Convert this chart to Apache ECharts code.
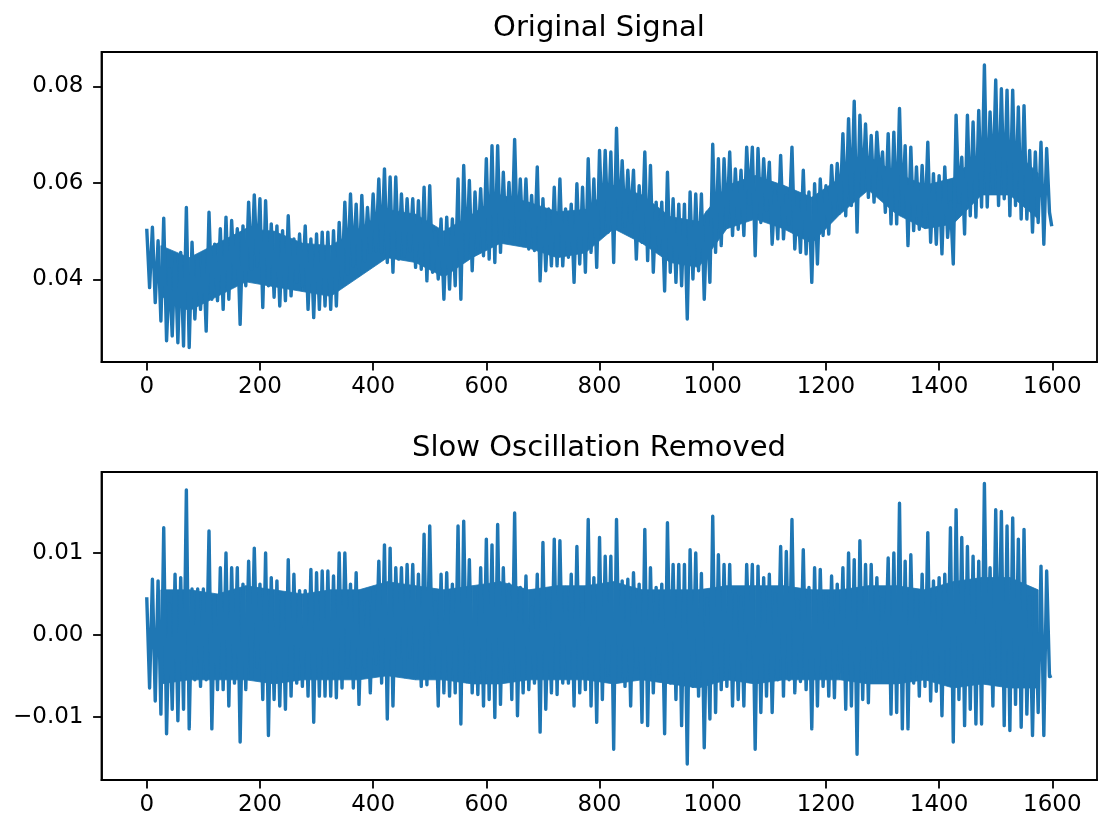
<!DOCTYPE html>
<html>
<head>
<meta charset="utf-8">
<script src="https://cdn.jsdelivr.net/npm/echarts@6/dist/echarts.min.js"></script>
<style>
html,body{margin:0;padding:0;background:#ffffff;}
#chart{width:1098px;height:824px;}
</style>
</head>
<body>
<div id="chart"></div>
<script>
// ---------- data ----------
const titles = ['Original Signal', 'Slow Oscillation Removed'];
const xTicks = [0, 200, 400, 600, 800, 1000, 1200, 1400, 1600];
const topTicks = [0.04, 0.06, 0.08];
const bottomTicks = [-0.01, 0.00, 0.01];

// each entry = extreme of the signal inside a window of 10 samples (0,10,...,1590)
const WINDOW = 10;
const LAST_SAMPLE = 1599;

const originalHigh = [
 0.0505,0.0508,0.0480,0.0527,0.0421,0.0449,0.0456,0.0549,0.0477,0.0442,
 0.0456,0.0539,0.0473,0.0505,0.0529,0.0522,0.0505,0.0511,0.0560,0.0575,
 0.0567,0.0563,0.0515,0.0511,0.0501,0.0532,0.0484,0.0494,0.0511,0.0484,
 0.0494,0.0498,0.0498,0.0501,0.0518,0.0560,0.0577,0.0556,0.0574,0.0549,
 0.0577,0.0608,0.0629,0.0612,0.0612,0.0577,0.0567,0.0567,0.0563,0.0591,
 0.0594,0.0498,0.0525,0.0529,0.0525,0.0608,0.0636,0.0605,0.0581,0.0588,
 0.0650,0.0677,0.0677,0.0622,0.0601,0.0690,0.0608,0.0608,0.0574,0.0633,
 0.0567,0.0546,0.0591,0.0608,0.0546,0.0556,0.0598,0.0591,0.0650,0.0608,
 0.0667,0.0667,0.0664,0.0713,0.0646,0.0626,0.0626,0.0594,0.0664,0.0636,
 0.0560,0.0560,0.0622,0.0567,0.0556,0.0556,0.0581,0.0577,0.0577,0.0539,
 0.0680,0.0650,0.0650,0.0664,0.0629,0.0626,0.0674,0.0674,0.0671,0.0650,
 0.0643,0.0584,0.0657,0.0574,0.0674,0.0574,0.0626,0.0581,0.0598,0.0608,
 0.0594,0.0636,0.0640,0.0702,0.0733,0.0769,0.0740,0.0722,0.0698,0.0705,
 0.0664,0.0702,0.0705,0.0754,0.0677,0.0674,0.0633,0.0636,0.0684,0.0619,
 0.0615,0.0633,0.0560,0.0740,0.0653,0.0740,0.0726,0.0750,0.0844,0.0747,
 0.0813,0.0795,0.0792,0.0792,0.0757,0.0760,0.0667,0.0664,0.0684,0.0671
];
const originalLow = [
 0.0383,0.0352,0.0314,0.0273,0.0283,0.0269,0.0262,0.0259,0.0318,0.0338,
 0.0293,0.0359,0.0356,0.0338,0.0359,0.0400,0.0307,0.0387,0.0421,0.0428,
 0.0342,0.0387,0.0363,0.0345,0.0356,0.0366,0.0394,0.0387,0.0338,0.0321,
 0.0338,0.0345,0.0338,0.0345,0.0394,0.0411,0.0428,0.0411,0.0439,0.0456,
 0.0460,0.0456,0.0435,0.0415,0.0442,0.0449,0.0460,0.0425,0.0421,0.0397,
 0.0415,0.0401,0.0359,0.0380,0.0387,0.0359,0.0442,0.0418,0.0463,0.0449,
 0.0442,0.0435,0.0456,0.0477,0.0477,0.0473,0.0470,0.0463,0.0460,0.0397,
 0.0418,0.0428,0.0428,0.0428,0.0446,0.0394,0.0432,0.0415,0.0456,0.0425,
 0.0494,0.0498,0.0435,0.0504,0.0511,0.0518,0.0442,0.0477,0.0439,0.0415,
 0.0463,0.0376,0.0415,0.0394,0.0387,0.0318,0.0401,0.0418,0.0359,0.0394,
 0.0456,0.0470,0.0511,0.0491,0.0504,0.0491,0.0556,0.0449,0.0518,0.0543,
 0.0473,0.0484,0.0484,0.0515,0.0463,0.0456,0.0453,0.0394,0.0432,0.0491,
 0.0494,0.0529,0.0546,0.0532,0.0553,0.0498,0.0581,0.0570,0.0560,0.0608,
 0.0539,0.0515,0.0515,0.0539,0.0470,0.0501,0.0504,0.0511,0.0477,0.0473,
 0.0453,0.0487,0.0432,0.0560,0.0494,0.0532,0.0529,0.0550,0.0550,0.0588,
 0.0553,0.0567,0.0532,0.0553,0.0525,0.0525,0.0498,0.0518,0.0473,0.0539
];
const originalEnd = 0.0510;

// dense (solid-looking) core of the trace, one pair per 50 samples (centres 25,75,...,1575)
const CORE_WINDOW = 50;
const originalCoreHigh = [
 0.0470,0.0445,0.0475,0.0505,0.0500,0.0475,0.0470,0.0505,0.0545,0.0535,
 0.0500,0.0535,0.0575,0.0560,0.0540,0.0545,0.0595,0.0575,0.0530,0.0520,
 0.0595,0.0615,0.0595,0.0570,0.0610,0.0655,0.0620,0.0595,0.0610,0.0665,
 0.0675,0.0620
];
const originalCoreLow = [
 0.0365,0.0335,0.0365,0.0395,0.0385,0.0375,0.0365,0.0405,0.0445,0.0435,
 0.0405,0.0445,0.0475,0.0465,0.0445,0.0455,0.0505,0.0475,0.0435,0.0425,
 0.0505,0.0525,0.0505,0.0475,0.0535,0.0585,0.0535,0.0505,0.0515,0.0575,
 0.0575,0.0525
];

const removedHigh = [
 0.0046,0.0068,0.0066,0.0131,0.0038,0.0074,0.0070,0.0177,0.0056,0.0056,
 0.0056,0.0127,0.0046,0.0082,0.0100,0.0082,0.0082,0.0062,0.0090,0.0106,
 0.0062,0.0100,0.0070,0.0066,0.0050,0.0092,0.0074,0.0054,0.0054,0.0080,
 0.0076,0.0078,0.0078,0.0072,0.0100,0.0100,0.0062,0.0076,0.0040,0.0040,
 0.0058,0.0090,0.0110,0.0106,0.0082,0.0082,0.0086,0.0086,0.0074,0.0123,
 0.0133,0.0040,0.0074,0.0076,0.0062,0.0133,0.0139,0.0092,0.0052,0.0082,
 0.0117,0.0110,0.0135,0.0082,0.0062,0.0149,0.0058,0.0072,0.0034,0.0074,
 0.0113,0.0042,0.0117,0.0115,0.0058,0.0074,0.0108,0.0038,0.0141,0.0070,
 0.0119,0.0096,0.0096,0.0141,0.0066,0.0068,0.0076,0.0062,0.0129,0.0082,
 0.0058,0.0062,0.0137,0.0086,0.0086,0.0086,0.0104,0.0100,0.0075,0.0044,
 0.0145,0.0098,0.0086,0.0086,0.0050,0.0046,0.0086,0.0086,0.0084,0.0070,
 0.0074,0.0050,0.0108,0.0102,0.0141,0.0042,0.0104,0.0058,0.0082,0.0080,
 0.0050,0.0072,0.0062,0.0082,0.0100,0.0092,0.0115,0.0086,0.0086,0.0070,
 0.0044,0.0094,0.0100,0.0161,0.0090,0.0098,0.0054,0.0074,0.0125,0.0066,
 0.0070,0.0074,0.0131,0.0153,0.0119,0.0108,0.0096,0.0090,0.0185,0.0082,
 0.0153,0.0151,0.0133,0.0143,0.0117,0.0129,0.0046,0.0046,0.0084,0.0078
];
const removedLow = [
 -0.0065,-0.0081,-0.0097,-0.0121,-0.0091,-0.0105,-0.0091,-0.0115,-0.0055,-0.0063,
 -0.0055,-0.0115,-0.0067,-0.0067,-0.0087,-0.0059,-0.0131,-0.0067,-0.0053,-0.0039,
 -0.0079,-0.0123,-0.0079,-0.0087,-0.0091,-0.0075,-0.0059,-0.0063,-0.0075,-0.0107,
 -0.0075,-0.0075,-0.0075,-0.0077,-0.0065,-0.0039,-0.0065,-0.0085,-0.0039,-0.0071,
 -0.0035,-0.0059,-0.0103,-0.0087,-0.0027,-0.0051,-0.0027,-0.0051,-0.0063,-0.0061,
 -0.0049,-0.0087,-0.0071,-0.0075,-0.0071,-0.0109,-0.0057,-0.0071,-0.0073,-0.0087,
 -0.0079,-0.0101,-0.0085,-0.0055,-0.0079,-0.0099,-0.0071,-0.0067,-0.0059,-0.0119,
 -0.0091,-0.0071,-0.0073,-0.0059,-0.0059,-0.0087,-0.0071,-0.0067,-0.0087,-0.0107,
 -0.0079,-0.0049,-0.0140,-0.0055,-0.0063,-0.0087,-0.0039,-0.0107,-0.0111,-0.0071,
 -0.0047,-0.0121,-0.0059,-0.0079,-0.0111,-0.0158,-0.0063,-0.0075,-0.0138,-0.0103,
 -0.0095,-0.0067,-0.0063,-0.0087,-0.0079,-0.0087,-0.0029,-0.0140,-0.0095,-0.0075,
 -0.0095,-0.0055,-0.0075,-0.0055,-0.0071,-0.0057,-0.0067,-0.0115,-0.0087,-0.0063,
 -0.0075,-0.0077,-0.0045,-0.0091,-0.0087,-0.0146,-0.0079,-0.0083,-0.0055,-0.0055,
 -0.0031,-0.0097,-0.0095,-0.0115,-0.0115,-0.0059,-0.0075,-0.0063,-0.0081,-0.0069,
 -0.0099,-0.0060,-0.0131,-0.0079,-0.0111,-0.0091,-0.0109,-0.0109,-0.0055,-0.0087,
 -0.0055,-0.0111,-0.0117,-0.0085,-0.0113,-0.0097,-0.0123,-0.0095,-0.0123,-0.0051
];
const removedEnd = -0.0050;

const removedCoreHigh = [
 0.0055,0.0055,0.0050,0.0060,0.0055,0.0050,0.0055,0.0055,0.0065,0.0060,
 0.0055,0.0060,0.0065,0.0055,0.0060,0.0060,0.0065,0.0055,0.0055,0.0055,
 0.0060,0.0060,0.0060,0.0055,0.0055,0.0060,0.0060,0.0055,0.0065,0.0070,
 0.0070,0.0055
];
const removedCoreLow = [
 -0.0060,-0.0055,-0.0055,-0.0055,-0.0060,-0.0055,-0.0055,-0.0055,-0.0050,-0.0055,
 -0.0055,-0.0060,-0.0060,-0.0055,-0.0055,-0.0055,-0.0060,-0.0055,-0.0060,-0.0065,
 -0.0055,-0.0060,-0.0055,-0.0055,-0.0055,-0.0060,-0.0060,-0.0055,-0.0065,-0.0060,
 -0.0065,-0.0065
];

// ---------- build series data ----------
function buildTrace(high, low, endValue) {
  const pts = [];
  for (let i = 0; i < high.length; i++) {
    pts.push([i * WINDOW, high[i]]);
    pts.push([i * WINDOW + WINDOW / 2, low[i]]);
  }
  pts.push([LAST_SAMPLE, endValue]);
  return pts;
}
// segments of the core band: [x0, lo0, hi0, x1, lo1, hi1]
function buildCore(high, low) {
  const segs = [];
  for (let i = 0; i < high.length - 1; i++) {
    const x0 = i * CORE_WINDOW + CORE_WINDOW / 2;
    segs.push([x0, low[i], high[i], x0 + CORE_WINDOW, low[i + 1], high[i + 1]]);
  }
  return segs;
}

const FONT = 'DejaVu Sans';
const TEXT = '#000000';
const LINE = '#1f77b4';

function xAxisCfg(gridIndex) {
  return {
    type: 'value', gridIndex: gridIndex,
    min: -79.95, max: 1678.95,
    axisLine: { show: true, onZero: false, lineStyle: { color: '#000', width: 1.8 } },
    axisTick: { show: true, inside: false, length: 8.4, customValues: xTicks,
                lineStyle: { color: '#000', width: 1.8 } },
    axisLabel: { show: true, margin: 14, customValues: xTicks,
                 color: TEXT, fontFamily: FONT, fontSize: 23,
                 formatter: v => String(Math.round(v)) },
    splitLine: { show: false }
  };
}
function yAxisCfg(gridIndex, min, max, ticks) {
  return {
    type: 'value', gridIndex: gridIndex, min: min, max: max,
    axisLine: { show: true, onZero: false, lineStyle: { color: '#000', width: 1.8 } },
    axisTick: { show: true, inside: false, length: 8.4, customValues: ticks,
                lineStyle: { color: '#000', width: 1.8 } },
    axisLabel: { show: true, margin: 18, customValues: ticks,
                 color: TEXT, fontFamily: FONT, fontSize: 23,
                 formatter: v => (v < -1e-9 ? '\u2212' + Math.abs(v).toFixed(2) : Math.abs(v).toFixed(2)) },
    splitLine: { show: false }
  };
}
function coreSeries(idx, segs) {
  return {
    type: 'custom', xAxisIndex: idx, yAxisIndex: idx, silent: true, z: 1,
    data: segs,
    encode: { x: [0, 3], y: [1, 2, 4, 5] },
    renderItem: function (params, api) {
      const p1 = api.coord([api.value(0), api.value(1)]);
      const p2 = api.coord([api.value(0), api.value(2)]);
      const p3 = api.coord([api.value(3), api.value(5)]);
      const p4 = api.coord([api.value(3), api.value(4)]);
      return { type: 'polygon', shape: { points: [p1, p2, p3, p4] },
               style: { fill: LINE, stroke: LINE, lineWidth: 0.8 } };
    }
  };
}
function traceSeries(idx, data) {
  return { type: 'line', xAxisIndex: idx, yAxisIndex: idx, symbol: 'none', showSymbol: false,
           data: data, lineStyle: { color: LINE, width: 3.4, join: 'round' }, clip: true, z: 2 };
}

const chart = echarts.init(document.getElementById('chart'), null, { renderer: 'canvas' });
chart.setOption({
  animation: false,
  backgroundColor: '#ffffff',
  title: [
    { text: titles[0], left: 599, top: 14, textAlign: 'center', padding: 0,
      textStyle: { fontFamily: FONT, fontSize: 29, fontWeight: 'normal', color: TEXT } },
    { text: titles[1], left: 599, top: 434, textAlign: 'center', padding: 0,
      textStyle: { fontFamily: FONT, fontSize: 29, fontWeight: 'normal', color: TEXT } }
  ],
  grid: [
    { left: 101.5, right: 1, top: 52, height: 310, show: true, borderColor: '#000', borderWidth: 1.8, backgroundColor: 'transparent' },
    { left: 101.5, right: 1, top: 472, height: 308, show: true, borderColor: '#000', borderWidth: 1.8, backgroundColor: 'transparent' }
  ],
  xAxis: [xAxisCfg(0), xAxisCfg(1)],
  yAxis: [
    yAxisCfg(0, 0.0229, 0.0871, topTicks),
    yAxisCfg(1, -0.01775, 0.01991, bottomTicks)
  ],
  series: [
    coreSeries(0, buildCore(originalCoreHigh, originalCoreLow)),
    traceSeries(0, buildTrace(originalHigh, originalLow, originalEnd)),
    coreSeries(1, buildCore(removedCoreHigh, removedCoreLow)),
    traceSeries(1, buildTrace(removedHigh, removedLow, removedEnd))
  ]
});
</script>
</body>
</html>
